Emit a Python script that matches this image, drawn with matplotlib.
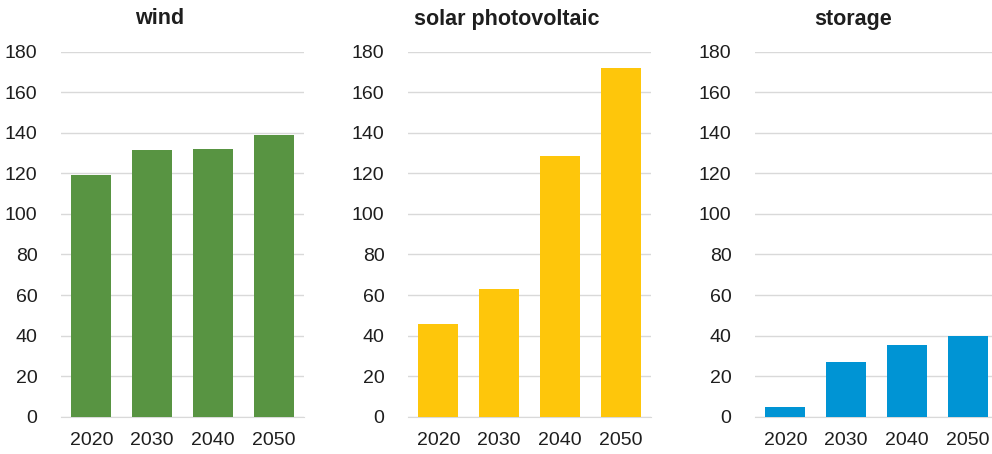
import matplotlib
matplotlib.use("Agg")
import matplotlib.pyplot as plt

plt.rcParams["font.family"] = ["Liberation Sans", "DejaVu Sans"]

# --- data ---
years = ["2020", "2030", "2040", "2050"]
wind = [119, 131.3, 131.8, 139]
solar = [45.5, 62.8, 128.8, 172.2]
storage = [4.9, 26.8, 35.5, 39.6]

panels = [
    ("wind", wind, "#589442"),
    ("solar photovoltaic", solar, "#FEC60B"),
    ("storage", storage, "#0094D4"),
]
y_ticks = list(range(0, 181, 20))

# axes left edges in pixels (figure 992 x 454)
lefts = [61, 408, 755]
W, H = 992, 454
ax_w = 243

fig = plt.figure(figsize=(9.92, 4.54), dpi=100)

for (title, vals, color), left in zip(panels, lefts):
    ax = fig.add_axes([left / W, 1 - 416.7 / H, ax_w / W, (416.7 - 51.7) / H])
    ax.bar(range(len(years)), vals, width=0.66, color=color, zorder=3)
    ax.set_xlim(-0.5, len(years) - 0.5)
    ax.set_ylim(0, 180)
    ax.set_yticks(y_ticks)
    ax.set_xticks(range(len(years)))
    ax.set_xticklabels(years)
    ax.grid(axis="y", color="#d9d9d9", linewidth=1, zorder=0)
    ax.tick_params(axis="both", length=0, labelsize=14, colors="#1e1e1e")
    ax.tick_params(axis="y", pad=17)
    ax.tick_params(axis="x", pad=11)
    for s in ["top", "right", "left"]:
        ax.spines[s].set_visible(False)
    ax.spines["bottom"].set_color("#d9d9d9")
    # titles sit a bit left of the plot centre, like the original
    fig.text((left + ax_w * 0.405) / W, 1 - 19 / H, title, ha="center", va="center",
             fontsize=15.5, fontweight="bold", color="#1e1e1e")

fig.savefig("out.png", dpi=100)
